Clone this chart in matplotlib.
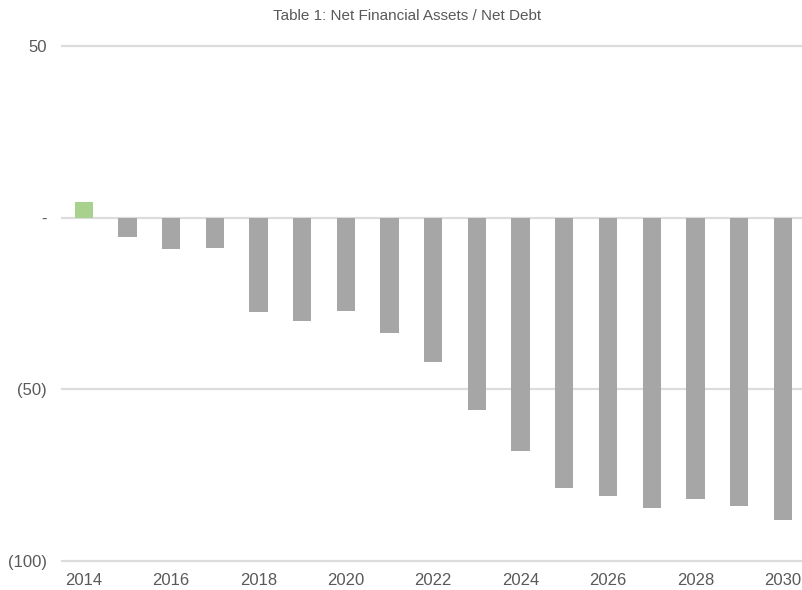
import matplotlib.pyplot as plt

plt.rcParams['font.family'] = ['Liberation Sans', 'DejaVu Sans']

years = list(range(2014, 2031))
net_assets = [4.5, -5.6, -9.3, -9.0, -27.5, -30.2, -27.3, -33.8, -42.0,
              -56.1, -68.0, -78.8, -81.1, -84.8, -82.0, -84.0, -88.3]
tick_values = [50, 0, -50, -100]
tick_labels = ['50', '-', '(50)', '(100)']

colors = ['#a9d18e' if v > 0 else '#a6a6a6' for v in net_assets]

fig = plt.figure(figsize=(8.03, 5.9), dpi=100)
ax = fig.add_axes([0.077, 0.05, 0.925, 0.872])

x = range(len(years))
ax.bar(x, net_assets, width=0.42, color=colors, zorder=3)

ax.set_xlim(-0.5, len(years) - 0.5)
ax.set_ylim(-100, 50)
ax.set_yticks(tick_values)
ax.set_yticklabels(tick_labels)
ax.set_xticks(list(x)[::2])
ax.set_xticklabels([str(y) for y in years[::2]])

ax.grid(axis='y', color='#dcdcdc', linewidth=1.6, zorder=0)
for line in ax.get_ygridlines():
    line.set_clip_on(False)
for side in ax.spines.values():
    side.set_visible(False)
ax.tick_params(length=0, labelsize=12, colors='#595959')
ax.tick_params(axis='y', pad=11)
ax.tick_params(axis='x', pad=9)

fig.text(0.507, 0.973, 'Table 1: Net Financial Assets / Net Debt',
         ha='center', va='center', fontsize=11, color='#595959')

fig.savefig('out.png', dpi=100)
